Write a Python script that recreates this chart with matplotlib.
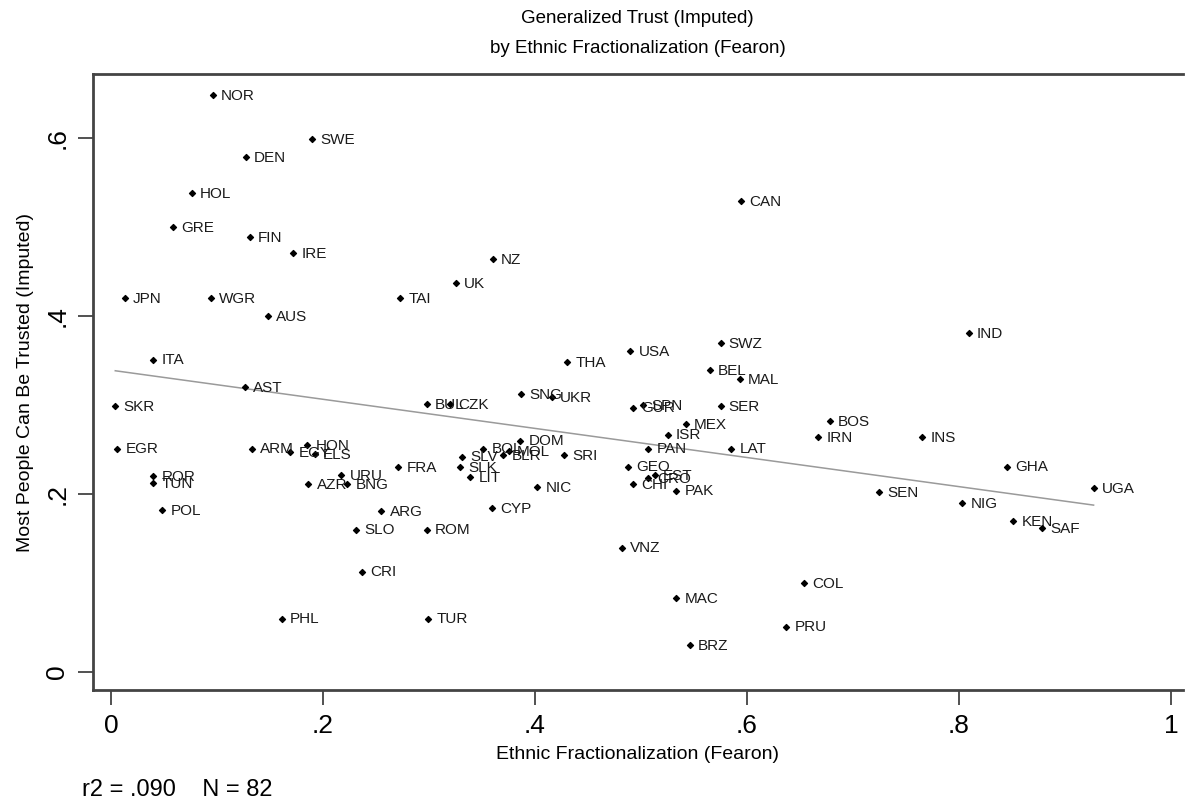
import numpy as np
import matplotlib.pyplot as plt

plt.rcParams['font.family'] = ['Liberation Sans', 'DejaVu Sans']

# country codes, ethnic fractionalization (Fearon), generalized trust (imputed)
countries = ["NOR", "SWE", "DEN", "HOL", "GRE", "FIN", "IRE", "JPN", "WGR", "AUS",
             "ITA", "AST", "SKR", "EGR", "ROR", "TUN", "POL", "ARM", "HON", "EGY",
             "ELS", "URU", "AZR", "BNG", "FRA", "BUL", "CZK", "SNG", "UKR", "SLV",
             "SLK", "LIT", "BOL", "BLR", "DOM", "MOL", "SRI", "NIC", "CYP", "ARG",
             "SLO", "ROM", "CRI", "PHL", "TUR", "NZ", "UK", "TAI", "CAN", "THA",
             "USA", "SWZ", "BEL", "MAL", "SER", "MEX", "ISR", "PAN", "LAT", "SPN",
             "GUR", "GEO", "EST", "CRO", "CHI", "PAK", "VNZ", "MAC", "BRZ", "COL",
             "PRU", "IND", "BOS", "IRN", "INS", "GHA", "SEN", "NIG", "UGA", "KEN",
             "SAF"]
ethnic_frac = [0.096, 0.190, 0.127, 0.076, 0.058, 0.131, 0.172, 0.013, 0.094, 0.148,
               0.040, 0.126, 0.004, 0.006, 0.040, 0.040, 0.048, 0.133, 0.185, 0.169,
               0.192, 0.217, 0.186, 0.223, 0.271, 0.298, 0.320, 0.387, 0.416, 0.331,
               0.329, 0.339, 0.351, 0.370, 0.386, 0.375, 0.427, 0.402, 0.359, 0.255,
               0.231, 0.298, 0.237, 0.161, 0.299, 0.360, 0.325, 0.273, 0.594, 0.430,
               0.490, 0.575, 0.565, 0.593, 0.575, 0.542, 0.525, 0.507, 0.585, 0.502,
               0.492, 0.488, 0.513, 0.507, 0.492, 0.533, 0.482, 0.533, 0.546, 0.654,
               0.637, 0.809, 0.678, 0.667, 0.765, 0.845, 0.725, 0.803, 0.927, 0.851,
               0.878]
trust = [0.648, 0.599, 0.579, 0.538, 0.500, 0.489, 0.471, 0.420, 0.420, 0.400,
         0.351, 0.320, 0.299, 0.251, 0.220, 0.212, 0.182, 0.251, 0.255, 0.247,
         0.245, 0.221, 0.211, 0.211, 0.230, 0.301, 0.301, 0.312, 0.309, 0.242,
         0.230, 0.219, 0.251, 0.244, 0.260, 0.248, 0.244, 0.208, 0.184, 0.181,
         0.160, 0.160, 0.113, 0.060, 0.060, 0.464, 0.437, 0.420, 0.529, 0.348,
         0.361, 0.370, 0.339, 0.329, 0.299, 0.279, 0.267, 0.251, 0.251, 0.300,
         0.297, 0.231, 0.221, 0.218, 0.211, 0.204, 0.140, 0.083, 0.030, 0.100,
         0.051, 0.381, 0.282, 0.264, 0.264, 0.231, 0.202, 0.190, 0.207, 0.170,
         0.162]

x_ticks = [0, 0.2, 0.4, 0.6, 0.8, 1.0]
x_ticklabels = ["0", ".2", ".4", ".6", ".8", "1"]
y_ticks = [0, 0.2, 0.4, 0.6]
y_ticklabels = ["0", ".2", ".4", ".6"]

x = np.array(ethnic_frac)
y = np.array(trust)

fig = plt.figure(figsize=(11.85, 8.10), dpi=100)
ax = fig.add_axes([0.0785, 0.148, 0.9195, 0.7606])

# linear fit over the data range
b, a = np.polyfit(x, y, 1)
xf = np.array([x.min(), x.max()])
ax.plot(xf, a + b * xf, color="#9a9a9a", lw=1.1, zorder=1)

ax.scatter(x, y, marker="D", s=9, color="black", zorder=2)
for name, xi, yi in zip(countries, x, y):
    ax.annotate(name, (xi, yi), xytext=(6, -0.5), textcoords="offset points",
                va="center", ha="left", fontsize=11, color="#1a1a1a")

ax.set_xlim(-0.017, 1.011)
ax.set_ylim(-0.0202, 0.672)
ax.set_xticks(x_ticks)
ax.set_xticklabels(x_ticklabels, fontsize=19)
ax.set_yticks(y_ticks)
ax.set_yticklabels(y_ticklabels, fontsize=19, rotation=90, va="center")
ax.tick_params(axis="both", direction="out", length=11, width=1.2, color="#333333")
ax.tick_params(axis="x", pad=6)
ax.tick_params(axis="y", pad=6)

for side in ["top", "left", "bottom"]:
    ax.spines[side].set_linewidth(2)
    ax.spines[side].set_color("#444444")
ax.spines["right"].set_visible(False)

ax.set_xlabel("Ethnic Fractionalization (Fearon)", fontsize=14, labelpad=6)
ax.set_ylabel("Most People Can Be Trusted (Imputed)", fontsize=14, labelpad=8)

fig.text(0.538, 0.977, "Generalized Trust (Imputed)", ha="center", va="center", fontsize=13.5)
fig.text(0.538, 0.940, "by Ethnic Fractionalization (Fearon)", ha="center", va="center", fontsize=13.5)
fig.text(0.069, 0.025, "r2 = .090    N = 82", ha="left", va="center", fontsize=17)

fig.savefig("out.png", dpi=100)
